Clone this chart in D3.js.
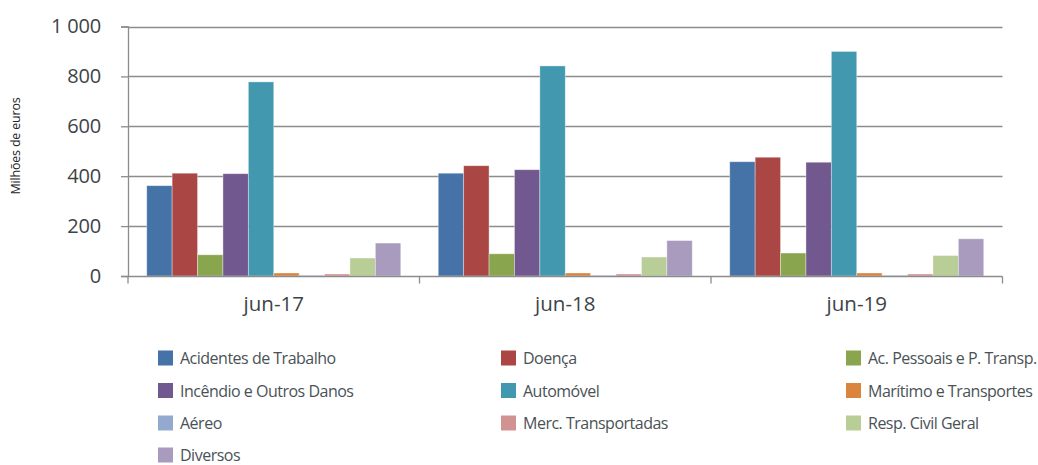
<!DOCTYPE html>
<html><head><meta charset="utf-8">
<script src="https://cdn.jsdelivr.net/npm/d3@7"></script>
<style>
body{margin:0;background:#fff;}
svg{display:block;font-family:"Open Sans",sans-serif;}
</style></head><body>
<svg id="c" width="1038" height="465"></svg>
<script>
const categories = ["jun-17","jun-18","jun-19"];
const seriesNames = ["Acidentes de Trabalho","Doença","Ac. Pessoais e P. Transp.","Incêndio e Outros Danos","Automóvel","Marítimo e Transportes","Aéreo","Merc. Transportadas","Resp. Civil Geral","Diversos"];
const seriesColors = ["#4572A7","#AA4643","#89A54E","#71588F","#4198AF","#DB843D","#93A9CF","#D19392","#B9CD96","#A99BBD"];
// values per series, for jun-17, jun-18, jun-19
const acidentes = [362, 412, 458];
const doenca = [412, 442, 476];
const acPessoais = [85, 89, 92];
const incendio = [410, 426, 456];
const automovel = [778, 842, 900];
const maritimo = [12, 12, 12];
const aereo = [3, 3, 3];
const merc = [8, 8, 8];
const respCivil = [72, 76, 82];
const diversos = [132, 142, 149];
const values = [acidentes, doenca, acPessoais, incendio, automovel, maritimo, aereo, merc, respCivil, diversos];
const yTicks = [0, 200, 400, 600, 800, 1000];
const yTitle = "Milhões de euros";

(function(){
const svg = d3.select("#c");
const L = 128, R = 1002.5, T = 26.5, B = 276;
const y = d3.scaleLinear().domain([0, 1000]).range([B, T]);
const x0 = d3.scaleBand().domain(categories).range([L, R]).padding(0);
const x1 = d3.scaleBand().domain(seriesNames).range([0, x0.bandwidth()]).paddingInner(0).paddingOuter(0.738);
const fmt = v => v >= 1000 ? d3.format(",")(v).replace(",", " ") : String(v);

// gridlines
svg.append("g").selectAll("line").data(yTicks.filter(t => t > 0)).join("line")
  .attr("x1", L).attr("x2", R)
  .attr("y1", d => Math.round(y(d)) + 0.5).attr("y2", d => Math.round(y(d)) + 0.5)
  .attr("stroke", "#8c8c8c").attr("stroke-width", 1.3);

// bars
const groups = svg.append("g").selectAll("g").data(categories).join("g")
  .attr("transform", c => `translate(${x0(c)},0)`);
groups.selectAll("rect").data((c, ci) => seriesNames.map((s, si) => ({s, si, v: values[si][ci]}))).join("rect")
  .attr("x", d => x1(d.s)).attr("width", x1.bandwidth())
  .attr("y", d => y(d.v)).attr("height", d => y(0) - y(d.v))
  .attr("fill", d => seriesColors[d.si])
  .attr("stroke", "rgba(255,255,255,0.45)").attr("stroke-width", 0.8);

// y axis
const ya = svg.append("g").attr("transform", `translate(${L},0)`)
  .call(d3.axisLeft(y).tickValues(yTicks).tickFormat(fmt).tickSize(7).tickPadding(20));
ya.select(".domain").attr("stroke", "#8c8c8c").attr("stroke-width", 1.3);
ya.selectAll(".tick line").attr("stroke", "#8c8c8c").attr("stroke-width", 1.3);
ya.selectAll(".tick text").attr("fill", "#3d4448").attr("font-size", 20).attr("font-family", "'Open Sans',sans-serif").attr("letter-spacing", -0.2);

// x axis
const xa = svg.append("g").attr("transform", `translate(0,${Math.round(B) + 0.5})`);
xa.append("line").attr("x1", L).attr("x2", R).attr("stroke", "#8c8c8c").attr("stroke-width", 1.3);
const bounds = categories.map(c => x0(c)).concat([x0(categories[categories.length - 1]) + x0.bandwidth()]);
xa.selectAll("line.b").data(bounds).join("line").attr("class", "b")
  .attr("x1", d => d).attr("x2", d => d).attr("y1", 0).attr("y2", 7)
  .attr("stroke", "#8c8c8c").attr("stroke-width", 1.3);
xa.selectAll("text").data(categories).join("text")
  .attr("x", c => x0(c) + x0.bandwidth() / 2).attr("y", 34)
  .attr("text-anchor", "middle").attr("fill", "#3d4448").attr("font-size", 20.5).attr("letter-spacing", 0)
  .text(c => c);

// y title
svg.append("text").attr("transform", "translate(20,146) rotate(-90)")
  .attr("text-anchor", "middle").attr("fill", "#222").attr("font-size", 12.5).attr("letter-spacing", -0.2)
  .text(yTitle);

// legend
const colX = [158, 501, 846], rowY = [350.5, 383, 415.5, 447.5];
const lg = svg.append("g").selectAll("g").data(seriesNames).join("g")
  .attr("transform", (d, i) => `translate(${colX[i % 3]},${rowY[Math.floor(i / 3)]})`);
lg.append("rect").attr("width", 15).attr("height", 15).attr("fill", (d, i) => seriesColors[i]);
lg.append("text").attr("x", 22).attr("y", 13.5).attr("fill", "#4a5256").attr("font-size", 16).attr("letter-spacing", -0.5)
  .text(d => d);
})();
</script>
</body></html>
